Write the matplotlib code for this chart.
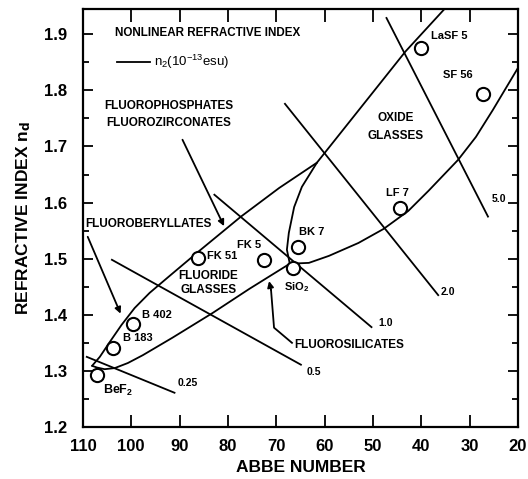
import matplotlib
matplotlib.use("Agg")
import matplotlib.pyplot as plt
from matplotlib.ticker import MultipleLocator

plt.rcParams['font.family'] = ['Liberation Sans', 'DejaVu Sans']
plt.rcParams['mathtext.default'] = 'regular'

# Glasses: Abbe number and refractive index n_d
glass_names = ["BeF$_2$", "B 183", "B 402", "FK 51", "FK 5", "BK 7", "SiO$_2$", "LF 7", "LaSF 5", "SF 56"]
abbe_number = [107.1, 103.8, 99.7, 86.1, 72.5, 65.5, 66.5, 44.3, 40.0, 27.2]
refr_index = [1.293, 1.341, 1.384, 1.501, 1.498, 1.521, 1.484, 1.591, 1.876, 1.794]

# Lines of constant nonlinear index n2 (10^-13 esu): end points
n2_labels = ["0.25", "0.5", "1.0", "2.0", "5.0"]
n2_abbe = [(109.2, 91.05), (104.0, 64.9), (82.8, 50.3), (68.2, 36.5), (47.2, 26.2)]
n2_index = [(1.325, 1.261), (1.498, 1.311), (1.614, 1.378), (1.776, 1.435), (1.929, 1.575)]

# Glass-family boundaries
fluoride_upper_abbe = [108.1, 106.5, 104.4, 102.0, 99.3, 96.2, 92.1, 85.9, 77.3, 69.4, 61.6]
fluoride_upper_n = [1.309, 1.325, 1.352, 1.382, 1.412, 1.439, 1.469, 1.514, 1.575, 1.626, 1.671]
fluoride_lower_abbe = [108.1, 107.1, 105.5, 103.4, 100.7, 97.6, 91.5, 83.2, 75.6, 71.5, 67.2]
fluoride_lower_n = [1.309, 1.306, 1.303, 1.305, 1.314, 1.328, 1.359, 1.403, 1.446, 1.468, 1.491]
oxide_upper_abbe = [61.6, 43.3, 35.2]
oxide_upper_n = [1.671, 1.869, 1.945]
oxide_left_abbe = [67.2, 67.8, 67.4, 66.3, 64.7, 61.6]
oxide_left_n = [1.491, 1.516, 1.546, 1.592, 1.628, 1.671]
oxide_lower_abbe = [67.2, 63.25, 59.1, 53.0, 47.8, 42.7, 38.5, 32.4, 28.7, 25.2, 20.0]
oxide_lower_n = [1.491, 1.4925, 1.505, 1.528, 1.553, 1.585, 1.621, 1.676, 1.717, 1.765, 1.84]

x_ticks = [110, 100, 90, 80, 70, 60, 50, 40, 30, 20]
y_ticks = [1.2, 1.3, 1.4, 1.5, 1.6, 1.7, 1.8, 1.9]

fig = plt.figure(figsize=(5.28, 4.79), dpi=100)
ax = fig.add_axes([0.157, 0.1086, 0.824, 0.8726])
ax.set_xlim(110, 20)
ax.set_ylim(1.2, 1.945)

LW = 1.3
for xs, ys in [(fluoride_upper_abbe, fluoride_upper_n), (fluoride_lower_abbe, fluoride_lower_n),
               (oxide_upper_abbe, oxide_upper_n), (oxide_left_abbe, oxide_left_n),
               (oxide_lower_abbe, oxide_lower_n)]:
    ax.plot(xs, ys, color='black', lw=LW, zorder=2, solid_capstyle='round')

for xs, ys in zip(n2_abbe, n2_index):
    ax.plot(xs, ys, color='black', lw=LW, zorder=2)

ax.plot(abbe_number, refr_index, linestyle='none', marker='o', ms=9.5, mew=1.5,
        mfc='white', mec='black', zorder=4)

small = dict(fontsize=7.5, fontweight='bold', color='black')
label_pos = {
    "BeF$_2$": (105.9, 1.266), "B 183": (101.8, 1.359), "B 402": (97.85, 1.400),
    "FK 51": (84.3, 1.505), "FK 5": (78.1, 1.525), "BK 7": (65.3, 1.548),
    "SiO$_2$": (68.4, 1.450), "LF 7": (47.4, 1.617), "LaSF 5": (37.9, 1.896),
    "SF 56": (35.45, 1.828),
}
for name in glass_names:
    x, y = label_pos[name]
    fs = 9 if name == "BeF$_2$" else 8
    ax.text(x, y, name, ha='left', va='center', fontsize=fs, fontweight='bold', zorder=5)

n2_text_pos = [(90.4, 1.2785), (63.7, 1.298), (48.8, 1.3855), (35.9, 1.4408), (25.4, 1.6066)]
for lab, (x, y) in zip(n2_labels, n2_text_pos):
    ax.text(x, y, lab, ha='left', va='center', **small)

# Legend block
ax.text(103.4, 1.903, "NONLINEAR REFRACTIVE INDEX", ha='left', va='center',
        fontsize=8.4, fontweight='bold')
ax.plot([103.0, 96.2], [1.851, 1.851], color='black', lw=LW)
ax.text(95.2, 1.851, "n$_2$(10$^{-13}$esu)", ha='left', va='center', fontsize=9.5)

# Region names
big = dict(fontsize=8.5, fontweight='bold', ha='center', va='center')
ax.text(92.3, 1.7725, "FLUOROPHOSPHATES", **big)
ax.text(92.3, 1.742, "FLUOROZIRCONATES", **big)
ax.text(45.3, 1.751, "OXIDE", **big)
ax.text(45.3, 1.719, "GLASSES", **big)
ax.text(84.05, 1.469, "FLUORIDE", **big)
ax.text(84.05, 1.444, "GLASSES", **big)
ax.text(109.6, 1.562, "FLUOROBERYLLATES", fontsize=8.5, fontweight='bold', ha='left', va='center')
ax.text(66.3, 1.346, "FLUOROSILICATES", fontsize=8.5, fontweight='bold', ha='left', va='center')

arrow = dict(arrowstyle='-|>', color='black', lw=LW, mutation_scale=9, shrinkA=0, shrinkB=0)
ax.annotate("", xy=(80.8, 1.558), xytext=(89.4, 1.712), arrowprops=arrow)
ax.annotate("", xy=(102.2, 1.402), xytext=(109.0, 1.539), arrowprops=arrow)
ax.plot([66.75, 70.46, 71.08], [1.350, 1.377, 1.444], color='black', lw=LW)
ax.annotate("", xy=(71.49, 1.460), xytext=(71.08, 1.444), arrowprops=arrow)

ax.set_xticks(x_ticks)
ax.set_yticks(y_ticks)
ax.set_xticklabels([str(t) for t in x_ticks])
ax.set_yticklabels([f"{t:.1f}" for t in y_ticks])
ax.yaxis.set_minor_locator(MultipleLocator(0.05))
ax.tick_params(axis='both', which='both', direction='in', top=True, right=True,
               labelsize=12, width=1.3)
ax.tick_params(axis='x', which='major', length=9, pad=9)
ax.tick_params(axis='y', which='major', length=7, pad=11)
ax.tick_params(axis='y', which='minor', length=4.5)
for lab in ax.get_xticklabels() + ax.get_yticklabels():
    lab.set_fontweight('bold')
for sp in ax.spines.values():
    sp.set_linewidth(1.6)

ax.set_xlabel("ABBE NUMBER", fontsize=12.5, fontweight='bold', labelpad=4)
ax.set_ylabel("REFRACTIVE INDEX n$_\\mathbf{d}$", fontsize=12.5, fontweight='bold', labelpad=8)

fig.savefig("out.png", dpi=100)
